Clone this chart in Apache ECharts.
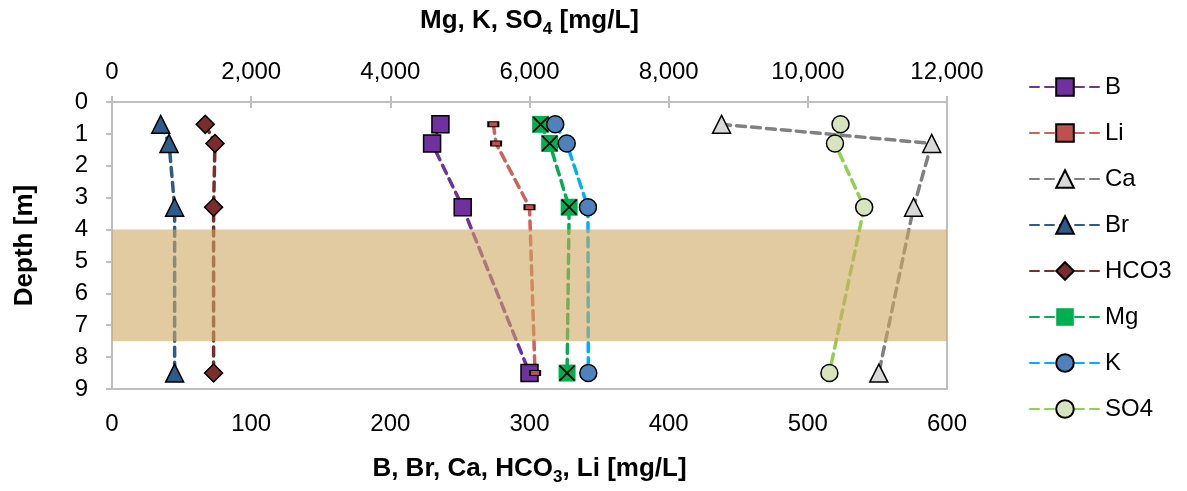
<!DOCTYPE html>
<html>
<head>
<meta charset="utf-8">
<script src="https://cdn.jsdelivr.net/npm/echarts@6/dist/echarts.min.js"></script>
<style>
  html, body { margin: 0; padding: 0; background: #fff; }
  #chart { width: 1187px; height: 491px; }
</style>
</head>
<body>
<div id="chart"></div>
<script>
// depth of each sample [m]
var depths = [0.7, 1.3, 3.3, 8.5];

// bottom axis species [mg/L]
var B    = [236, 230, 252, 300];
var Li   = [274, 276, 300, 304];
var Ca   = [438, 589, 576, 551];
var Br   = [35, 41, 45, 45];
var HCO3 = [67, 74, 73, 73];

// top axis species [mg/L]
var Mg  = [6160, 6290, 6570, 6540];
var K   = [6370, 6535, 6840, 6845];
var SO4 = [10470, 10390, 10810, 10310];

// shaded depth interval [m]
var band = [4.0, 7.5];

var FONT = 'Liberation Sans, Arial, sans-serif';
var MG_X = 'path://M0,0L10,10M10,0L0,10';

function pts(vals) {
	return vals.map(function(v, i) { return [v, depths[i]]; });
}

function fmt(v) {
	return String(v).replace(/\B(?=(\d{3})+(?!\d))/g, ',');
}

// one dashed profile line
function profile(name, vals, axis, color, symbol, size, fill) {
	return {
		name : name,
		type : 'line',
		xAxisIndex : axis,
		data : pts(vals),
		symbol : symbol,
		symbolSize : size,
		showSymbol : true,
		z : 3,
		lineStyle : { color : color, width : 3.5, type : [9, 6], cap : 'round' },
		itemStyle : { color : fill, borderColor : '#000', borderWidth : 1.5 },
		emphasis : { disabled : true }
	};
}

var chart = echarts.init(document.getElementById('chart'));

var series = [
	profile('B', B, 0, '#7030a0', 'rect', 17, '#7030a0'),
	profile('Li', Li, 0, '#d0605c', 'rect', [10, 5], '#c0504d'),
	profile('Ca', Ca, 0, '#808080', 'triangle', 18, '#d9d9d9'),
	profile('Br', Br, 0, '#2f5b8c', 'triangle', 18, '#2f5b8c'),
	profile('HCO3', HCO3, 0, '#7b2c2c', 'diamond', 18, '#7b2c2c'),
	profile('Mg', Mg, 1, '#00b050', 'rect', 17, '#00b050'),
	profile('K', K, 1, '#00b0f0', 'circle', 17, '#4f81bd'),
	profile('SO4', SO4, 1, '#92d050', 'circle', 17, '#d7e4bd')
];
// green squares have no outline, only the black cross
series[5].itemStyle.borderWidth = 0;
series.push({
	name : 'MgX',
	type : 'line',
	xAxisIndex : 1,
	data : pts(Mg),
	symbol : MG_X,
	symbolSize : 15,
	z : 4,
	lineStyle : { width : 0 },
	itemStyle : { color : 'rgba(0,0,0,0)', borderColor : '#000', borderWidth : 1.8 },
	emphasis : { disabled : true }
});
// the tan interval, drawn over the lines
series.push({
	name : 'band',
	type : 'line',
	data : [],
	z : 10,
	markArea : {
		z : 10,
		silent : true,
		itemStyle : { color : 'rgba(207,168,97,0.6)' },
		data : [ [ { yAxis : band[0] }, { yAxis : band[1] } ] ]
	}
});

var axisLine = { show : true, lineStyle : { color : '#bfbfbf', width : 2 } };
var axisTick = { show : true, length : 6, inside : false, lineStyle : { color : '#bfbfbf', width : 2 } };
var subRich = {
	s : { fontSize : 17, fontWeight : 'bold', fontFamily : FONT, color : '#000', verticalAlign : 'bottom', lineHeight : 34 }
};

chart.setOption({
	animation : false,
	textStyle : { fontFamily : FONT },
	grid : {
		left : 112,
		right : 240,
		top : 102,
		bottom : 102,
		show : true,
		borderColor : '#bfbfbf',
		borderWidth : 2
	},
	legend : {
		orient : 'vertical',
		left : 1024,
		top : 70,
		itemWidth : 70,
		itemHeight : 22,
		itemGap : 22,
		data : [ 'B', 'Li', 'Ca', 'Br', 'HCO3', 'Mg', 'K', 'SO4' ],
		textStyle : { fontSize : 24, lineHeight : 24, color : '#000', fontFamily : FONT }
	},
	xAxis : [ {
		type : 'value',
		position : 'bottom',
		min : 0,
		max : 600,
		interval : 100,
		axisLine : axisLine,
		axisTick : axisTick,
		splitLine : { show : false },
		axisLabel : { fontSize : 24, color : '#000', margin : 23 },
		name : 'B, Br, Ca, HCO{s|3}, Li [mg/L]',
		nameLocation : 'middle',
		nameGap : 63,
		nameTextStyle : { fontSize : 26, fontWeight : 'bold', color : '#000', rich : subRich }
	}, {
		type : 'value',
		position : 'top',
		min : 0,
		max : 12000,
		interval : 2000,
		axisLine : axisLine,
		axisTick : axisTick,
		splitLine : { show : false },
		axisLabel : { fontSize : 24, color : '#000', margin : 18, formatter : fmt },
		name : 'Mg, K, SO{s|4} [mg/L]',
		nameLocation : 'middle',
		nameGap : 64,
		nameTextStyle : { fontSize : 26, fontWeight : 'bold', color : '#000', rich : subRich }
	} ],
	yAxis : {
		type : 'value',
		inverse : true,
		min : 0,
		max : 9,
		interval : 1,
		axisLine : axisLine,
		axisTick : axisTick,
		splitLine : { show : false },
		axisLabel : { fontSize : 24, color : '#000', margin : 24 },
		name : 'Depth [m]',
		nameLocation : 'middle',
		nameGap : 74,
		nameTextStyle : { fontSize : 26, fontWeight : 'bold', color : '#000' }
	},
	series : series
});
</script>
</body>
</html>
